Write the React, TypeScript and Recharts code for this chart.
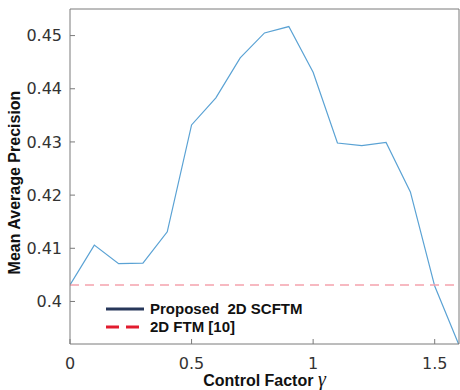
import React from 'react';
import { LineChart, Line, XAxis, YAxis, Legend, Label } from 'recharts';

const gammaValues = [0, 0.1, 0.2, 0.3, 0.4, 0.5, 0.6, 0.7, 0.8, 0.9, 1.0, 1.1, 1.2, 1.3, 1.4, 1.5, 1.6];
const proposedMAP = [0.4031, 0.4106, 0.4071, 0.4072, 0.4131, 0.4332, 0.4383, 0.4458, 0.4505, 0.4517, 0.4431, 0.4298, 0.4293, 0.4299, 0.4206, 0.4029, 0.3918];
const ftmMAP = 0.4031;
const xTicks = [0, 0.5, 1, 1.5];
const yTicks = [0.4, 0.41, 0.42, 0.43, 0.44, 0.45];
const seriesNames = ['Proposed  2D SCFTM', '2D FTM [10]'];
const lineColors = ['#5aa2d4', '#f5a3ad'];
const legendColors = ['#27375a', '#e21b2e'];

const data = gammaValues.map((g, i) => ({ gamma: g, proposed: proposedMAP[i], ftm: ftmMAP }));

const axisColor = '#7a7a7a';
const tickStyle = { fill: '#333', fontSize: 16, fontFamily: 'DejaVu Sans' };

const renderLegend = (props: any) => {
  const payload = [...(props.payload || [])].sort(
    (a: any, b: any) => seriesNames.indexOf(a.value) - seriesNames.indexOf(b.value)
  );
  return (
    <div style={{ fontFamily: 'Liberation Sans, Arial', fontWeight: 700, fontSize: 15, color: '#111', lineHeight: '18px' }}>
      {payload.map((entry: any) => {
        const i = seriesNames.indexOf(entry.value);
        return (
          <div key={entry.value} style={{ display: 'flex', alignItems: 'center', height: 18 }}>
            <svg width={46} height={10} style={{ flex: 'none' }}>
              <line x1={2} y1={5} x2={40} y2={5} stroke={legendColors[i]} strokeWidth={3}
                strokeDasharray={i === 1 ? '13 7' : undefined} />
            </svg>
            <span style={{ whiteSpace: 'pre' }}>{entry.value}</span>
          </div>
        );
      })}
    </div>
  );
};

export default function App() {
  return (
    <div style={{ position: 'absolute', left: 0, top: 0, background: '#fff' }}>
      <LineChart width={460} height={390} data={data} margin={{ top: 8, right: 0, bottom: 0, left: 0 }}>
        <XAxis dataKey="gamma" type="number" domain={[0, 1.6]} ticks={xTicks} allowDataOverflow
          height={46} tickSize={-5} tickMargin={19} stroke={axisColor} tick={tickStyle}
          tickFormatter={(v: number) => String(v)}>
          <Label content={(p: any) => {
            const vb = p.viewBox;
            return (
              <text x={vb.x + vb.width / 2} y={vb.y + 42} textAnchor="middle"
                fontFamily="Liberation Sans, Arial" fontWeight={700} fontSize={16} fill="#111">
                Control Factor{' '}
                <tspan fontFamily="Liberation Serif, Times New Roman" fontStyle="italic" fontSize={20} fontWeight={400}>γ</tspan>
              </text>
            );
          }} />
        </XAxis>
        <XAxis xAxisId="top" orientation="top" type="number" dataKey="gamma" domain={[0, 1.6]} ticks={xTicks}
          allowDataOverflow height={1} tickSize={-5} tick={false} stroke={axisColor} />
        <YAxis domain={[0.392, 0.455]} ticks={yTicks} allowDataOverflow width={70} tickSize={-5} tickMargin={13}
          stroke={axisColor} tick={tickStyle} tickFormatter={(v: number) => String(v)}>
          <Label content={(p: any) => {
            const vb = p.viewBox;
            const cx = vb.x + 14;
            const cy = vb.y + vb.height / 2 + 6;
            return (
              <text x={cx} y={cy} transform={`rotate(-90 ${cx} ${cy})`} textAnchor="middle" dominantBaseline="central"
                fontFamily="Liberation Sans, Arial" fontWeight={700} fontSize={16} fill="#111">
                Mean Average Precision
              </text>
            );
          }} />
        </YAxis>
        <YAxis yAxisId="right" orientation="right" domain={[0.392, 0.455]} ticks={yTicks} allowDataOverflow
          width={1} tickSize={-5} tick={false} stroke={axisColor} />
        <Legend layout="vertical" align="center" verticalAlign="middle" content={renderLegend}
          wrapperStyle={{ position: 'absolute', left: 104, top: 300, width: 'auto', height: 'auto' }} />
        <Line dataKey="proposed" name={seriesNames[0]} stroke={lineColors[0]} strokeWidth={1.2} dot={false}
          isAnimationActive={false} />
        <Line dataKey="ftm" name={seriesNames[1]} stroke={lineColors[1]} strokeWidth={1.6} strokeDasharray="9 6"
          dot={false} isAnimationActive={false} />
      </LineChart>
    </div>
  );
}
